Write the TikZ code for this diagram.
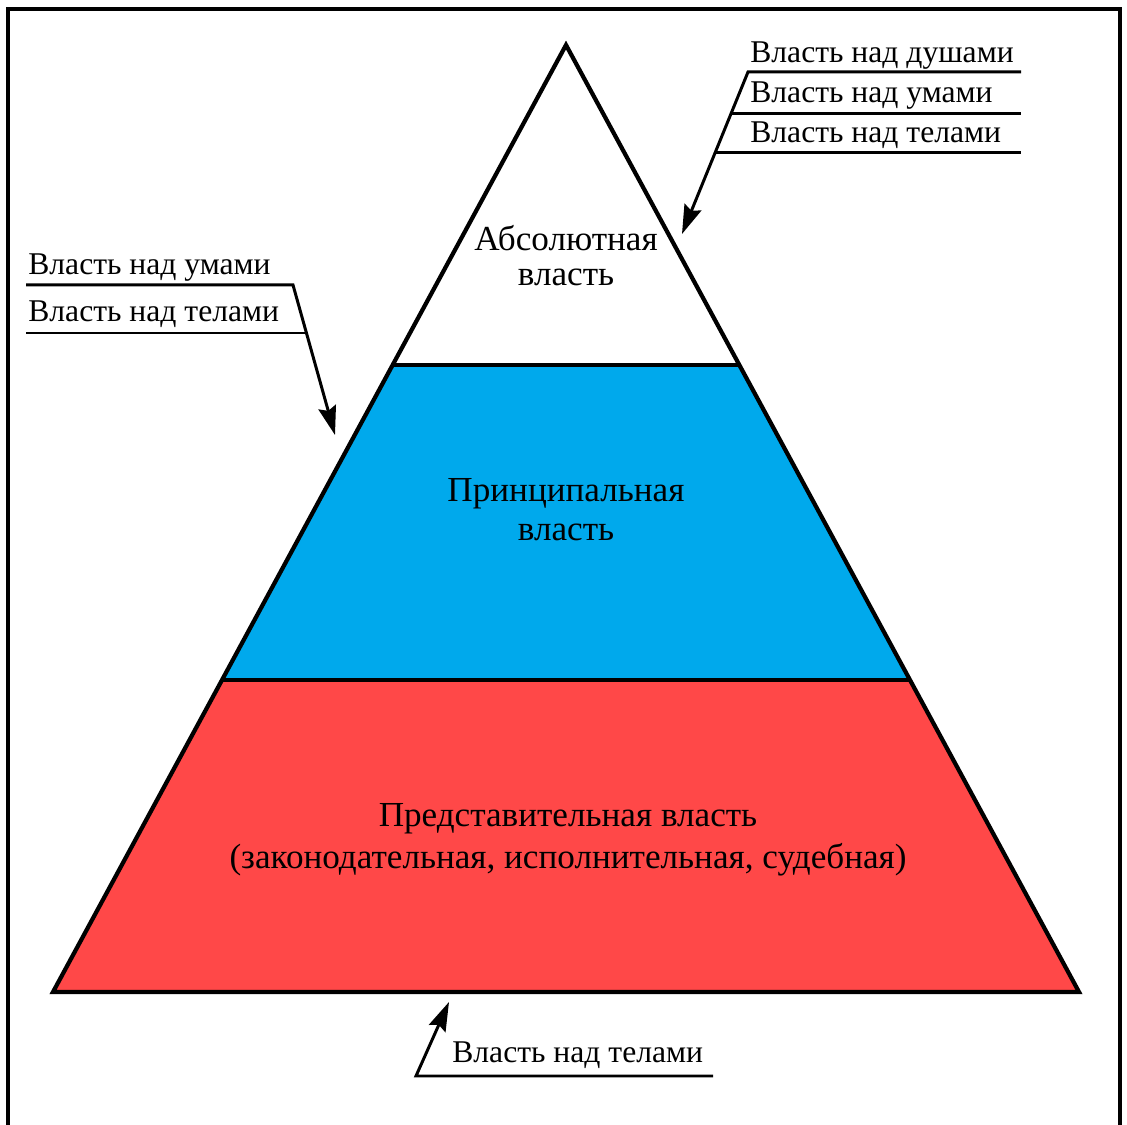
\documentclass[tikz,border=0pt]{standalone}
\usepackage{fontspec}
\setmainfont{Liberation Serif}
\usepackage{tikz}
\usetikzlibrary{calc}
\usetikzlibrary{arrows.meta}
\definecolor{tierblue}{RGB}{0,169,236}
\definecolor{tierred}{RGB}{255,72,72}

\begin{document}
\begin{tikzpicture}[
	tiertext/.style={align=center, font=\fontsize{20}{20}\selectfont, inner sep=0pt},
	powerlabel/.style={anchor=base west, font=\fontsize{18}{20}\selectfont, inner sep=0pt},
	leader/.style={black, line width=1.7pt},
	leaderarrow/.style={leader, -{Stealth[length=0.58cm, width=0.36cm, inset=0.08cm]}},
	edge/.style={black, line width=2.4pt}
]

\useasboundingbox (0,0) rectangle (22.54,22.48);

% frame, open at the bottom
\draw[black, line width=2.3pt] (0.16,-0.2) -- (0.16,22.3) -- (22.4,22.3) -- (22.4,-0.2);

% pyramid
\coordinate (apex) at (11.32,21.58);
\coordinate (bl) at (1.06,2.64);
\coordinate (br) at (21.58,2.64);
\coordinate (ml) at ($(apex)!0.3379!(bl)$);
\coordinate (mr) at ($(apex)!0.3379!(br)$);
\coordinate (ll) at ($(apex)!0.6705!(bl)$);
\coordinate (lr) at ($(apex)!0.6705!(br)$);

\fill[white] (apex) -- (ml) -- (mr) -- cycle;
\fill[tierblue] (ml) -- (ll) -- (lr) -- (mr) -- cycle;
\fill[tierred] (ll) -- (bl) -- (br) -- (lr) -- cycle;
\draw[edge] (apex) -- (bl) -- (br) -- cycle;
\draw[edge] (ml) -- (mr);
\draw[edge] (ll) -- (lr);

\node[tiertext] (absolute) at (11.32,17.36) {Абсолютная\\власть};
\node[tiertext, font=\fontsize{20}{22}\selectfont] (principal) at (11.32,12.28) {Принципальная\\власть};
\node[tiertext, font=\fontsize{20}{24}\selectfont] (representative) at (11.36,5.68)
		{Представительная власть\\(законодательная, исполнительная, судебная)};

% top right
\node[powerlabel] (trsouls) at (15.0,21.22) {Власть над душами};
\node[powerlabel] (trminds) at (15.0,20.42) {Власть над умами};
\node[powerlabel] (trbodies) at (15.0,19.62) {Власть над телами};

\coordinate (trend) at (20.42,21.04);
\coordinate (trknee) at (14.96,21.04);
\coordinate (trtip) at (13.64,17.8);
\draw[leaderarrow] (trend) -- (trknee) -- (trtip);
\draw[leader] ($(trknee)!0.259!(trtip)$) coordinate (trmid) -- (trmid -| trend);
\draw[leader] ($(trknee)!0.5!(trtip)$) coordinate (trlow) -- (trlow -| trend);

% left
\node[powerlabel] (lminds) at (0.56,16.98) {Власть над умами};
\node[powerlabel] (lbodies) at (0.56,16.04) {Власть над телами};

\coordinate (lend) at (0.52,16.78);
\coordinate (lknee) at (5.86,16.78);
\coordinate (ltip) at (6.7,13.78);
\draw[leaderarrow] (lend) -- (lknee) -- (ltip);
\draw[leader] ($(lknee)!0.32!(ltip)$) coordinate (lmid) -- (lmid -| lend);

% bottom
\node[powerlabel] (bbodies) at (9.04,1.24) {Власть над телами};

\coordinate (bend) at (14.26,0.96);
\coordinate (bknee) at (8.32,0.96);
\coordinate (btip) at (8.98,2.44);
\draw[leaderarrow] (bend) -- (bknee) -- (btip);

\end{tikzpicture}
\end{document}
